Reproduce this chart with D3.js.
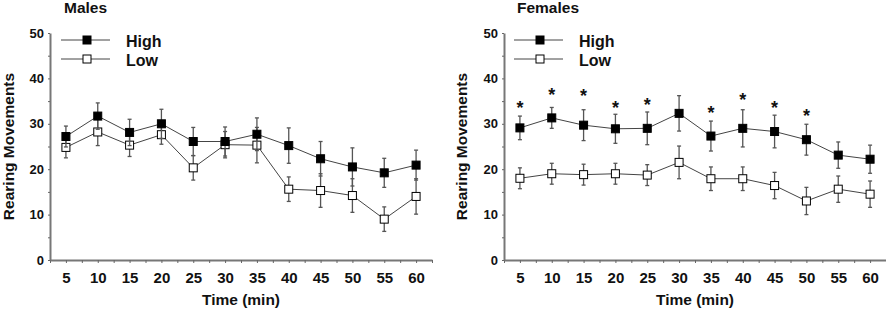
<!DOCTYPE html>
<html>
<head>
<meta charset="utf-8">
<script src="https://cdn.jsdelivr.net/npm/d3@7"></script>
<style>
  body { margin: 0; background: #fff; }
  svg text { font-family: "Liberation Sans", Arial, sans-serif; font-weight: bold; fill: #111; }
</style>
</head>
<body>
<div id="chart"></div>
<script>
// time points (min)
var times = [5, 10, 15, 20, 25, 30, 35, 40, 45, 50, 55, 60];
var yTickLabels = [0, 10, 20, 30, 40, 50];

// males
var malesHigh    = [27.2, 31.7, 28.1, 30.0, 26.1, 26.1, 27.7, 25.2, 22.3, 20.5, 19.2, 20.9];
var malesHighErr = [2.3, 2.9, 2.9, 3.2, 3.1, 3.2, 3.6, 3.9, 3.8, 4.2, 3.2, 3.3];
var malesLow     = [24.8, 28.2, 25.3, 27.6, 20.3, 25.4, 25.3, 15.6, 15.3, 14.2, 9.0, 14.0];
var malesLowErr  = [2.3, 3.0, 2.5, 2.1, 2.7, 2.9, 3.9, 2.7, 3.7, 3.7, 2.7, 3.9];

// females
var femalesHigh    = [29.1, 31.3, 29.7, 28.9, 29.0, 32.3, 27.3, 29.0, 28.3, 26.5, 23.1, 22.2];
var femalesHighErr = [2.6, 2.3, 3.4, 3.2, 3.6, 3.9, 3.3, 4.1, 3.6, 3.4, 2.9, 3.1];
var femalesLow     = [18.0, 19.0, 18.8, 19.0, 18.7, 21.5, 17.9, 17.9, 16.4, 13.0, 15.6, 14.5];
var femalesLowErr  = [2.3, 2.3, 2.3, 2.3, 2.3, 3.6, 2.6, 2.6, 2.9, 3.0, 2.9, 2.9];
// significance stars (value position), null = none
var femalesStars   = [34.4, 37.2, 36.9, 34.4, 35.0, null, 33.2, 36.2, 34.4, 32.6, null, null];

var W = 886, H = 311;
var svg = d3.select("#chart").append("svg")
    .attr("width", W).attr("height", H);

function drawPanel(p) {
    var x = d3.scaleLinear().domain([2.5, 62.5]).range([p.x0, p.x1]);
    var y = d3.scaleLinear().domain([0, 50]).range([260, 33]);
    var g = svg.append("g");

    // title
    g.append("text").attr("x", p.titleX).attr("y", 13)
        .style("font-size", "15.5px").text(p.title);

    // x axis
    var xAxis = d3.axisBottom(x)
        .tickValues(d3.range(2.5, 63, 2.5))
        .tickSizeInner(3).tickSizeOuter(0).tickPadding(9)
        .tickFormat(function (d) { return d % 5 === 0 ? d : ""; });
    var gx = g.append("g").attr("transform", "translate(0,260)").call(xAxis);
    gx.selectAll("text").style("font-size", "15px").attr("fill", "#111");

    // y axis
    var yAxis = d3.axisLeft(y)
        .tickValues(d3.range(0, 51, 5))
        .tickSizeInner(2).tickSizeOuter(0).tickPadding(4)
        .tickFormat(function (d) { return yTickLabels.indexOf(d) >= 0 ? d : ""; });
    var gy = g.append("g").attr("transform", "translate(" + p.x0 + ",0)").call(yAxis);
    gy.selectAll("text").style("font-size", "13px").attr("fill", "#111");

    [gx, gy].forEach(function (a) {
        a.select(".domain").attr("stroke", "#777").attr("stroke-width", 2);
        a.selectAll(".tick line").attr("stroke", "#666");
    });

    // axis titles
    g.append("text")
        .attr("transform", "translate(" + p.yLabelX + "," + y(25) + ") rotate(-90)")
        .attr("text-anchor", "middle")
        .style("font-size", "15.5px").text("Rearing Movements");
    g.append("text")
        .attr("x", (x(5) + x(60)) / 2).attr("y", 305)
        .attr("text-anchor", "middle")
        .style("font-size", "15.5px").text("Time (min)");

    var series = [
        { vals: p.low, errs: p.lowErr, fill: "#fff" },
        { vals: p.high, errs: p.highErr, fill: "#000" }
    ];

    series.forEach(function (s) {
        var pts = times.map(function (t, i) { return { t: t, v: s.vals[i], e: s.errs[i] }; });

        // error bars
        var eb = g.append("g").attr("stroke", "#555").attr("stroke-width", 1.3);
        pts.forEach(function (d) {
            var cx = x(d.t);
            eb.append("line").attr("x1", cx).attr("x2", cx)
                .attr("y1", y(d.v + d.e)).attr("y2", y(d.v - d.e));
            [d.v + d.e, d.v - d.e].forEach(function (v) {
                eb.append("line").attr("x1", cx - 2).attr("x2", cx + 2)
                    .attr("y1", y(v)).attr("y2", y(v));
            });
        });

        // line
        g.append("path").datum(pts)
            .attr("fill", "none").attr("stroke", "#444").attr("stroke-width", 1)
            .attr("d", d3.line().x(function (d) { return x(d.t); }).y(function (d) { return y(d.v); }));

        // markers
        g.selectAll(null).data(pts).enter().append("rect")
            .attr("x", function (d) { return x(d.t) - 4; })
            .attr("y", function (d) { return y(d.v) - 4; })
            .attr("width", 8).attr("height", 8)
            .attr("fill", s.fill).attr("stroke", "#000").attr("stroke-width", 1);
    });

    // stars
    if (p.stars) {
        g.selectAll(null).data(times.filter(function (t, i) { return p.stars[i] != null; }))
            .enter().append("text")
            .attr("x", function (t) { return x(t); })
            .attr("y", function (t) { return y(p.stars[times.indexOf(t)]) + 10; })
            .attr("text-anchor", "middle")
            .style("font-size", "18px").text("*");
    }

    // legend
    var lx = p.legendX;
    [{ name: "High", fill: "#000", yy: 40 }, { name: "Low", fill: "#fff", yy: 59 }].forEach(function (l) {
        g.append("line").attr("x1", lx).attr("x2", lx + 49)
            .attr("y1", l.yy).attr("y2", l.yy)
            .attr("stroke", "#444").attr("stroke-width", 1);
        g.append("rect").attr("x", lx + 22).attr("y", l.yy - 4)
            .attr("width", 8).attr("height", 8)
            .attr("fill", l.fill).attr("stroke", "#000");
        g.append("text").attr("x", lx + 65).attr("y", l.yy + 7)
            .style("font-size", "16px").text(l.name);
    });
}

drawPanel({
    title: "Males", titleX: 64, x0: 50, x1: 432, yLabelX: 14, legendX: 61,
    high: malesHigh, highErr: malesHighErr, low: malesLow, lowErr: malesLowErr
});
drawPanel({
    title: "Females", titleX: 517, x0: 504, x1: 886, yLabelX: 467, legendX: 514,
    high: femalesHigh, highErr: femalesHighErr, low: femalesLow, lowErr: femalesLowErr,
    stars: femalesStars
});
</script>
</body>
</html>
